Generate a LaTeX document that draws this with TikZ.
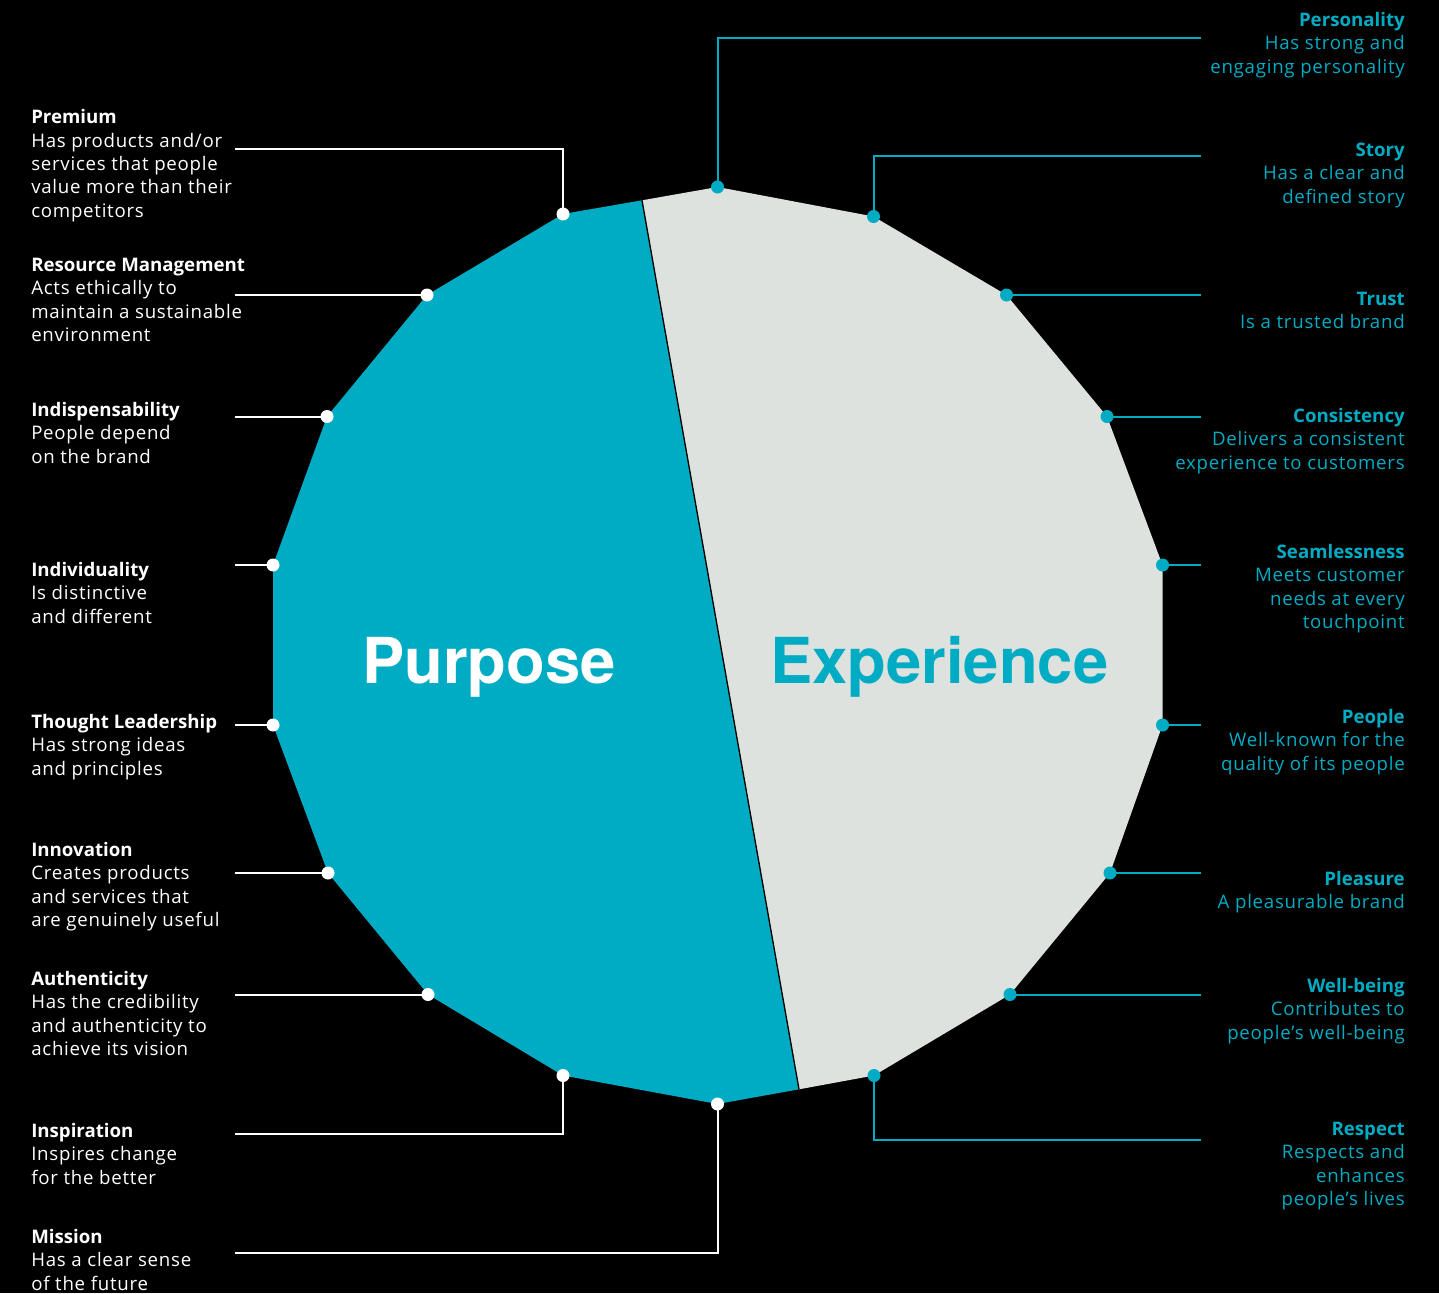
\documentclass[tikz,border=0pt]{standalone}
\usepackage{fontspec}
\setmainfont[LetterSpace=4]{Open Sans}
\newfontfamily\titlefont{Open Sans}
\newfontfamily\bigfont{TeX Gyre Heros}
\definecolor{brandteal}{RGB}{0,172,196}
\definecolor{brandgray}{RGB}{222,226,223}
\newcommand\labfont{\fontsize{14}{17.5}\selectfont}
\newcommand\ttl[1]{{\titlefont\bfseries #1}}
\begin{document}
\begin{tikzpicture}[x=0.75pt,y=-0.75pt,
  llab/.style={font=\labfont, align=left, anchor=base west, inner sep=0pt, text=white},
  rlab/.style={font=\labfont, align=right, anchor=base east, inner sep=0pt, text=brandteal},
  wline/.style={draw=white, line width=1.5pt},
  tline/.style={draw=brandteal, line width=1.5pt},
  wdot/.style={fill=white},
  tdot/.style={fill=brandteal},
  bigtext/.style={font=\bigfont\bfseries\fontsize{47.5}{47.5}\selectfont, anchor=base west, inner sep=0pt}]
\fill[black] (0,0) rectangle (1439,1293);
\useasboundingbox (0,0) rectangle (1439,1293);
% vertices
\coordinate (L1) at (563,214);
\coordinate (L2) at (427,295);
\coordinate (L3) at (327,416.5);
\coordinate (L4) at (273,565);
\coordinate (L5) at (273,725);
\coordinate (L6) at (328,873);
\coordinate (L7) at (428,994.5);
\coordinate (L8) at (563,1075.5);
\coordinate (L9) at (717.5,1104);
\coordinate (R1) at (717.5,187);
\coordinate (R2) at (873.5,216.5);
\coordinate (R3) at (1006.5,295);
\coordinate (R4) at (1107,416.5);
\coordinate (R5) at (1162.5,565);
\coordinate (R6) at (1162.5,725);
\coordinate (R7) at (1110,873);
\coordinate (R8) at (1010,994.5);
\coordinate (R9) at (874,1075.5);
\coordinate (T) at (642,200.3);
\coordinate (B) at (799,1089.3);
% halves
\fill[brandteal] (T) -- (L1) -- (L2) -- (L3) -- (L4) -- (L5) -- (L6) -- (L7) -- (L8) -- (L9) -- (B) -- cycle;
\fill[brandgray] (T) -- (R1) -- (R2) -- (R3) -- (R4) -- (R5) -- (R6) -- (R7) -- (R8) -- (R9) -- (B) -- cycle;
\draw[black, line width=1pt] (T) -- (B);
% big words
\node[bigtext, text=white] (purpose) at (362,683) {Purpose};
\node[bigtext, text=brandteal] (experience) at (770,683) {Experience};
% connector ends
\coordinate (eL1) at (235,149);
\coordinate (eL2) at (235,295);
\coordinate (eL3) at (235,416.5);
\coordinate (eL4) at (235,565);
\coordinate (eL5) at (235,725);
\coordinate (eL6) at (235,873);
\coordinate (eL7) at (235,994.5);
\coordinate (eL8) at (235,1133.5);
\coordinate (eL9) at (235,1253);
\coordinate (eR1) at (1201,38);
\coordinate (eR2) at (1201,156);
\coordinate (eR3) at (1201,295);
\coordinate (eR4) at (1201,416.5);
\coordinate (eR5) at (1201,565);
\coordinate (eR6) at (1201,725);
\coordinate (eR7) at (1201,873);
\coordinate (eR8) at (1201,994.5);
\coordinate (eR9) at (1201,1140);
% connectors
\draw[wline] (L1) |- (eL1);
\draw[wline] (L2) -- (eL2);
\draw[wline] (L3) -- (eL3);
\draw[wline] (L4) -- (eL4);
\draw[wline] (L5) -- (eL5);
\draw[wline] (L6) -- (eL6);
\draw[wline] (L7) -- (eL7);
\draw[wline] (L8) |- (eL8);
\draw[wline] (L9) |- (eL9);
\draw[tline] (R1) |- (eR1);
\draw[tline] (R2) |- (eR2);
\draw[tline] (R3) -- (eR3);
\draw[tline] (R4) -- (eR4);
\draw[tline] (R5) -- (eR5);
\draw[tline] (R6) -- (eR6);
\draw[tline] (R7) -- (eR7);
\draw[tline] (R8) -- (eR8);
\draw[tline] (R9) |- (eR9);
% dots
\foreach \p in {L1,L2,L3,L4,L5,L6,L7,L8,L9} \fill[wdot] (\p) circle[radius=6.5];
\foreach \p in {R1,R2,R3,R4,R5,R6,R7,R8,R9} \fill[tdot] (\p) circle[radius=6.5];
% left labels (anchor at baseline of last line)
\node[llab] (premium) at (31,217.3) {\ttl{Premium}\\Has products and/or\\services that people\\value more than their\\competitors};
\node[llab] (resource) at (31,341.5) {\ttl{Resource Management}\\Acts ethically to\\maintain a sustainable\\environment};
\node[llab] (indisp) at (31,463.2) {\ttl{Indispensability}\\People depend\\on the brand};
\node[llab] (individ) at (31,623.2) {\ttl{Individuality}\\Is distinctive\\and different};
\node[llab] (thought) at (31,775.2) {\ttl{Thought Leadership}\\Has strong ideas\\and principles};
\node[llab] (innov) at (31,926.5) {\ttl{Innovation}\\Creates products\\and services that\\are genuinely useful};
\node[llab] (authen) at (31,1055.5) {\ttl{Authenticity}\\Has the credibility\\and authenticity to\\achieve its vision};
\node[llab] (inspir) at (31,1184.2) {\ttl{Inspiration}\\Inspires change\\for the better};
\node[llab] (mission) at (31,1290.2) {\ttl{Mission}\\Has a clear sense\\of the future};
% right labels
\node[rlab] (personality) at (1405,73.2) {\ttl{Personality}\\Has strong and\\engaging personality};
\node[rlab] (story) at (1405,203.2) {\ttl{Story}\\Has a clear and\\defined story};
\node[rlab] (trust) at (1405,328.8) {\ttl{Trust}\\Is a trusted brand};
\node[rlab] (consist) at (1405,469.2) {\ttl{Consistency}\\Delivers a consistent\\experience to customers};
\node[rlab] (seam) at (1405,628.5) {\ttl{Seamlessness}\\Meets customer\\needs at every\\touchpoint};
\node[rlab] (people) at (1405,770.2) {\ttl{People}\\Well-known for the\\quality of its people};
\node[rlab] (pleasure) at (1405,908.8) {\ttl{Pleasure}\\A pleasurable brand};
\node[rlab] (wellbeing) at (1405,1039.2) {\ttl{Well-being}\\Contributes to\\people’s well-being};
\node[rlab] (respect) at (1405,1205.5) {\ttl{Respect}\\Respects and\\enhances\\people’s lives};
\end{tikzpicture}
\end{document}
